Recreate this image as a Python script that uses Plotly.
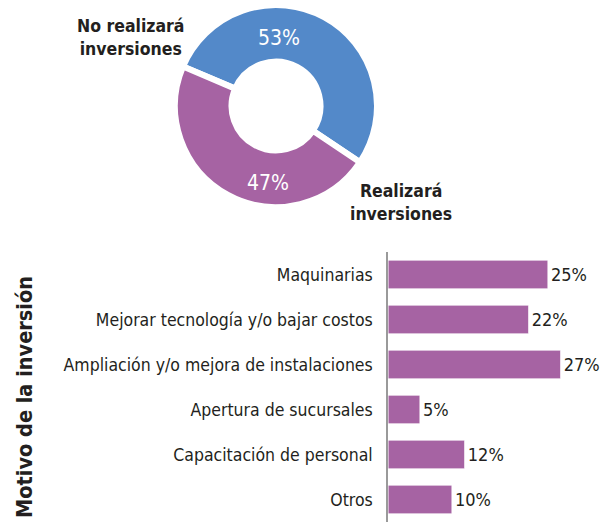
import plotly.graph_objects as go

pie_labels = ["No realizará<br>inversiones", "Realizará<br>inversiones"]
pie_values = [53, 47]
pie_colors = ["#5389C9", "#A663A3"]

categories = [
    "Maquinarias",
    "Mejorar tecnología y/o bajar costos",
    "Ampliación y/o mejora de instalaciones",
    "Apertura de sucursales",
    "Capacitación de personal",
    "Otros",
]
values = [25, 22, 27, 5, 12, 10]
axis_title = "Motivo de la inversión"

FONT = "Liberation Sans Narrow, DejaVu Sans Condensed, Arial Narrow, Roboto Condensed, sans-serif"
W, H = 603, 522

def px(x):
    return x / W

def py(y):
    return 1 - y / H

fig = go.Figure()

fig.add_trace(go.Pie(
    labels=pie_labels,
    values=pie_values,
    sort=False,
    direction="clockwise",
    rotation=-67,
    hole=0.44,
    marker=dict(colors=pie_colors, line=dict(color="white", width=6)),
    textinfo="none",
    hoverinfo="label+percent",
    domain=dict(x=[px(175), px(377)], y=[py(207), py(5)]),
    showlegend=False,
))

fig.add_trace(go.Bar(
    x=values,
    y=categories,
    orientation="h",
    marker=dict(color="#A663A3", line=dict(color="white", width=1)),
    text=[f"{v}%" for v in values],
    textposition="outside",
    textfont=dict(family=FONT, size=18, color="#231F20"),
    cliponaxis=False,
    showlegend=False,
    xaxis="x",
    yaxis="y",
))

annotations = [
    dict(text=f"{pie_values[0]}%", x=px(279), y=py(38), font=dict(family=FONT, size=21, color="white")),
    dict(text=f"{pie_values[1]}%", x=px(268), y=py(183), font=dict(family=FONT, size=21, color="white")),
    dict(text=f"<b>{pie_labels[0]}</b>", x=px(131), y=py(37), align="center",
         font=dict(family=FONT, size=17.5, color="#231F20")),
    dict(text=f"<b>{pie_labels[1]}</b>", x=px(401), y=py(203), align="center",
         font=dict(family=FONT, size=17.5, color="#231F20")),
    dict(text=f"<b>{axis_title}</b>", x=px(24), y=py(397), textangle=-90,
         font=dict(family=FONT, size=21.5, color="#231F20")),
]
for a in annotations:
    a.update(xref="paper", yref="paper", showarrow=False, xanchor="center", yanchor="middle")

fig.update_layout(
    width=W, height=H,
    margin=dict(l=0, r=0, t=0, b=0, pad=0, autoexpand=False),
    paper_bgcolor="white", plot_bgcolor="white",
    bargap=0.36,
    xaxis=dict(domain=[px(388), 1], range=[0, 33.6], visible=False, automargin=False),
    yaxis=dict(domain=[0, py(252)], autorange="reversed", showline=True, linecolor="#9A9A9A",
               linewidth=1.5, ticks="outside", ticklen=10, tickcolor="rgba(0,0,0,0)", automargin=False,
               tickfont=dict(family=FONT, size=17.5, color="#231F20"), showgrid=False, zeroline=False),
    annotations=annotations,
)

fig.write_html(
    "out.html",
    config={"displayModeBar": False},
    post_script="document.body.style.margin='0';document.body.style.overflow='hidden';",
)
